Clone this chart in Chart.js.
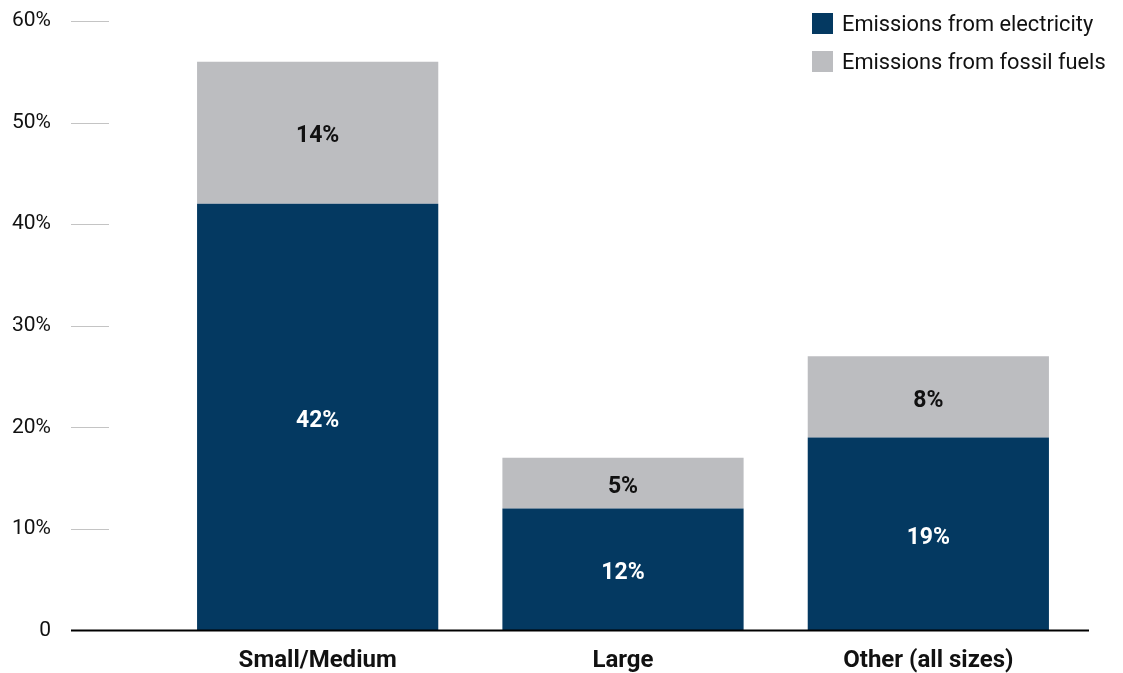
<!DOCTYPE html>
<html>
<head>
<meta charset="utf-8">
<script src="https://cdn.jsdelivr.net/npm/chart.js@4"></script>
<style>
  html, body { margin: 0; padding: 0; background: #fff; }
  #wrap { position: relative; width: 1123px; height: 673px; }
  #emChart { display: block; width: 1123px; height: 673px; }
  #legend { position: absolute; left: 812px; top: 13px; font-family: Roboto, sans-serif; font-size: 21.8px; color: #111; }
  #legend div { display: flex; align-items: center; height: 21px; margin-bottom: 17px; white-space: nowrap; }
  #legend span.box { display: inline-block; width: 21px; height: 21px; margin-right: 9px; }
</style>
</head>
<body>
<div id="wrap">
  <canvas id="emChart" width="1123" height="673"></canvas>
  <div id="legend"></div>
</div>
<script>
const categories = ['Small/Medium', 'Large', 'Other (all sizes)'];
const electricity = [42, 12, 19];
const fossilFuels = [14, 5, 8];
const yTicks = [0, 10, 20, 30, 40, 50, 60];

const NAVY = '#043961';
const GREY = '#bcbdc0';

// short tick marks left of the plot and the long baseline
const axisMarks = {
    id: 'axisMarks',
    afterDatasetsDraw(chart) {
        const ctx = chart.ctx;
        const y = chart.scales.y;
        ctx.save();
        ctx.strokeStyle = '#c4c4c4';
        ctx.lineWidth = 1;
        yTicks.forEach(v => {
            if (v === 0) return;
            const py = Math.round(y.getPixelForValue(v)) + 0.5;
            ctx.beginPath();
            ctx.moveTo(71, py);
            ctx.lineTo(109, py);
            ctx.stroke();
        });
        ctx.strokeStyle = '#000';
        ctx.lineWidth = 2;
        const by = y.getPixelForValue(0);
        ctx.beginPath();
        ctx.moveTo(71, by);
        ctx.lineTo(1089, by);
        ctx.stroke();
        ctx.restore();
    }
};

// value labels centred in each segment
const segLabels = {
    id: 'segLabels',
    afterDatasetsDraw(chart) {
        const ctx = chart.ctx;
        ctx.save();
        ctx.font = 'bold 23px Roboto, sans-serif';
        ctx.textAlign = 'center';
        ctx.textBaseline = 'middle';
        chart.data.datasets.forEach((ds, di) => {
            const meta = chart.getDatasetMeta(di);
            meta.data.forEach((bar, i) => {
                const cy = (bar.y + bar.base) / 2 + 4;
                ctx.fillStyle = di === 0 ? '#fff' : '#111';
                ctx.fillText(ds.data[i] + '%', bar.x, cy);
            });
        });
        ctx.restore();
    }
};

const chart = new Chart(document.getElementById('emChart'), {
    type: 'bar',
    data: {
        labels: categories,
        datasets: [
            { label: 'Emissions from electricity', data: electricity, backgroundColor: NAVY },
            { label: 'Emissions from fossil fuels', data: fossilFuels, backgroundColor: GREY }
        ]
    },
    options: {
        responsive: false,
        maintainAspectRatio: false,
        animation: false,
        layout: { padding: { top: 21, right: 42, bottom: 0, left: 0 } },
        datasets: { bar: { barPercentage: 1, categoryPercentage: 0.79 } },
        plugins: {
            legend: { display: false },
            tooltip: { enabled: false }
        },
        scales: {
            x: {
                stacked: true,
                grid: { display: false, drawTicks: false },
                border: { display: false },
                ticks: {
                    color: '#111',
                    padding: 16,
                    font: { family: 'Roboto, sans-serif', size: 24, weight: 'bold' }
                },
                afterFit(scale) { scale.height = 42.5; }
            },
            y: {
                stacked: true,
                min: 0,
                max: 60,
                // invisible tick length pushes the labels out to the left edge
                grid: { display: false, drawTicks: true, tickLength: 110, tickColor: 'rgba(0,0,0,0)' },
                border: { display: false },
                afterBuildTicks(scale) { scale.ticks = yTicks.map(v => ({ value: v })); },
                ticks: {
                    color: '#111',
                    padding: 4,
                    font: { family: 'Roboto, sans-serif', size: 21 },
                    callback: v => v === 0 ? '0' : v + '%'
                },
                afterFit(scale) { scale.width = 165; }
            }
        }
    },
    plugins: [axisMarks, segLabels]
});

// html legend built from the datasets
const legendEl = document.getElementById('legend');
chart.data.datasets.forEach(ds => {
    const row = document.createElement('div');
    const box = document.createElement('span');
    box.className = 'box';
    box.style.background = ds.backgroundColor;
    row.appendChild(box);
    row.appendChild(document.createTextNode(ds.label));
    legendEl.appendChild(row);
});
</script>
</body>
</html>
